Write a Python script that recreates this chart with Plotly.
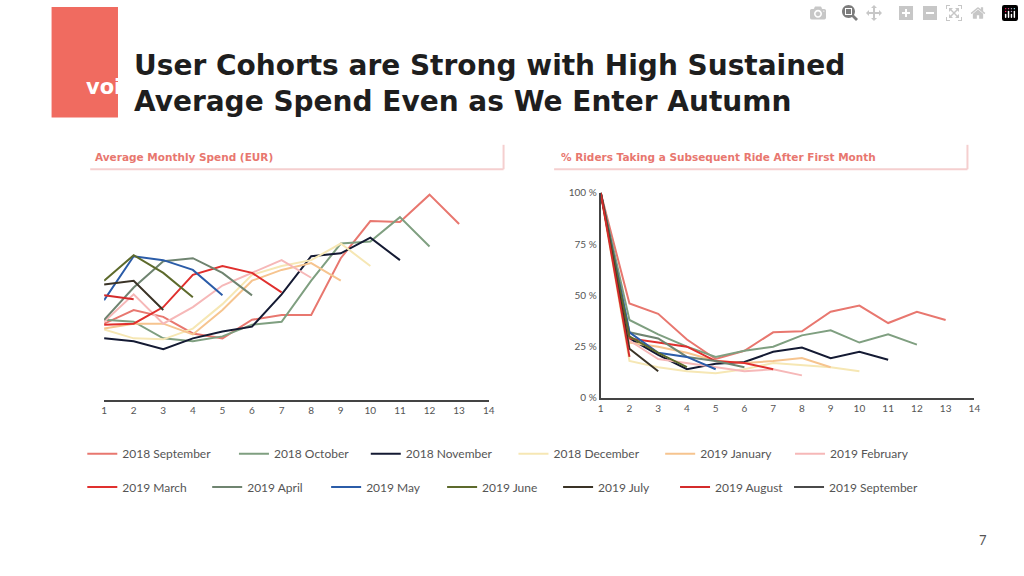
import plotly.graph_objects as go

names = ["2018 September","2018 October","2018 November","2018 December","2019 January","2019 February",
         "2019 March","2019 April","2019 May","2019 June","2019 July","2019 August","2019 September"]
colors = ["#e8776f","#7f9f80","#141a33","#f6e7b4","#f6c48f","#f6b8b8",
          "#e0302e","#6f8470","#2b5ca8","#5d6a2c","#3a3326","#d42b2b","#4a4a4a"]
months = list(range(1, 15))
pct_ticks = [0, 25, 50, 75, 100]
pct_labels = ["0 %", "25 %", "50 %", "75 %", "100 %"]

spend = [
    [7.8,9.2,8.5,6.8,6.3,8.2,8.7,8.7,14.5,18.3,18.2,21.0,18.0],
    [8.2,8.0,6.3,6.0,6.5,7.7,8.0,12.2,16.0,16.2,18.7,15.7],
    [6.3,6.0,5.2,6.3,7.0,7.5,10.8,14.7,15.0,16.6,14.3],
    [7.2,6.3,6.2,7.3,9.8,12.8,13.7,14.3,16.0,13.7],
    [7.3,7.8,7.8,6.7,9.2,12.2,13.3,14.0,12.2],
    [8.0,10.8,7.8,9.5,11.7,13.0,14.3,12.5],
    [7.7,7.8,9.5,12.8,13.7,13.0,11.0],
    [8.2,11.5,14.2,14.5,13.0,10.7],
    [10.2,14.7,14.3,13.3,10.7],
    [12.2,14.8,13.0,10.5],
    [11.8,12.2,9.2],
    [10.7,10.3],
    [10.5],
]
retention = [
    [100,46,41,28.5,19,23,32,32.5,42,45,36.5,42,38],
    [100,38,31,25,20,23,25,30.5,33,27,31,26],
    [100,29,21,14,16.7,17.5,22.5,24.6,19.4,22.5,18.6],
    [100,18,15,13,12,14,17,16,15,13],
    [100,27,25,22,18,17,18,19.5,15],
    [100,28,19,17,15,13,14,11],
    [100,29,27,25,18,17,14],
    [100,32,29,20,18,15],
    [100,32,22,20,14],
    [100,30,22,15],
    [100,24,13],
    [100,20],
    [100],
]

W, H = 1024, 576
def px(x): return x / W
def py(y): return 1 - y / H

legend_pos = [(92,457),(245,457),(378,457),(527,457),(675,457),(806,457),
              (92,491),(218,491),(338,491),(455,491),(572,491),(690,491),(805,491)]

fig = go.Figure()
legends = {}
for i, n in enumerate(names):
    key = "legend" if i == 0 else f"legend{i+1}"
    fig.add_trace(go.Scatter(x=months[:len(spend[i])], y=spend[i], mode="lines", name=n,
                             line=dict(color=colors[i], width=2), xaxis="x", yaxis="y", legend=key))
    fig.add_trace(go.Scatter(x=months[:len(retention[i])], y=retention[i], mode="lines", name=n,
                             line=dict(color=colors[i], width=2), xaxis="x2", yaxis="y2", showlegend=False))
    lx, ly = legend_pos[i]
    legends[key] = dict(orientation="h", x=px(lx - 12), y=py(ly), xanchor="left", yanchor="middle",
                        itemwidth=30, font=dict(family="Lato", size=12, color="#555"),
                        bgcolor="rgba(0,0,0,0)")

tickfont = dict(family="Lato", size=10, color="#555")
fig.update_layout(
    width=W, height=H, margin=dict(l=0, r=0, t=0, b=0),
    paper_bgcolor="white", plot_bgcolor="white", font=dict(family="Lato"),
    xaxis=dict(domain=[px(102), px(490)], range=[1, 14], tickvals=months, showgrid=False, zeroline=False,
               showline=True, linecolor="#444", linewidth=2, tickfont=tickfont, anchor="y"),
    yaxis=dict(domain=[py(402), py(185)], range=[0, 21.7], visible=False, anchor="x"),
    xaxis2=dict(domain=[px(603), px(980)], range=[1, 14], tickvals=months, showgrid=False, zeroline=False,
                showline=True, linecolor="#444", linewidth=2, tickfont=tickfont, anchor="y2"),
    yaxis2=dict(domain=[py(400), py(190)], range=[0, 100], tickmode="array", tickvals=pct_ticks,
                ticktext=pct_labels, showgrid=False, zeroline=False, showline=True, linecolor="#444",
                linewidth=2, tickfont=tickfont, anchor="x2"),
    **legends,
)

shapes = [
    dict(type="rect", xref="paper", yref="paper", x0=px(49), x1=px(116), y0=py(113), y1=py(0),
         fillcolor="#f06b60", line=dict(width=0)),
]
for x0, x1 in [(88, 505), (556, 973)]:
    shapes.append(dict(type="line", xref="paper", yref="paper", x0=px(x0), x1=px(x1), y0=py(166), y1=py(166),
                       line=dict(color="#f5cfcf", width=2)))
    shapes.append(dict(type="line", xref="paper", yref="paper", x0=px(x1), x1=px(x1), y0=py(141), y1=py(166),
                       line=dict(color="#f5cfcf", width=2)))
fig.update_layout(shapes=shapes)

ann = [
    dict(text="voi.", x=px(82), y=py(82), font=dict(family="DejaVu Sans", size=21, color="white", weight="bold")),
    dict(text="User Cohorts are Strong with High Sustained<br>Average Spend Even as We Enter Autumn",
         x=px(130), y=py(78), xanchor="left", align="left",
         font=dict(family="DejaVu Sans", size=28, color="#1e1e1e", weight="bold")),
    dict(text="Average Monthly Spend (EUR)", x=px(91), y=py(153), xanchor="left",
         font=dict(family="DejaVu Sans", size=10.5, color="#e8776f", weight="bold")),
    dict(text="% Riders Taking a Subsequent Ride After First Month", x=px(561), y=py(153), xanchor="left",
         font=dict(family="DejaVu Sans", size=10.5, color="#e8776f", weight="bold")),
    dict(text="7", x=px(995), y=py(545), font=dict(family="Lato", size=13, color="#555")),
]
for a in ann:
    a.update(xref="paper", yref="paper", showarrow=False)
    a.setdefault("yanchor", "middle")
fig.update_layout(annotations=ann)

fig.write_html("out.html", post_script="document.body.style.margin='0';document.body.style.padding='0';")
